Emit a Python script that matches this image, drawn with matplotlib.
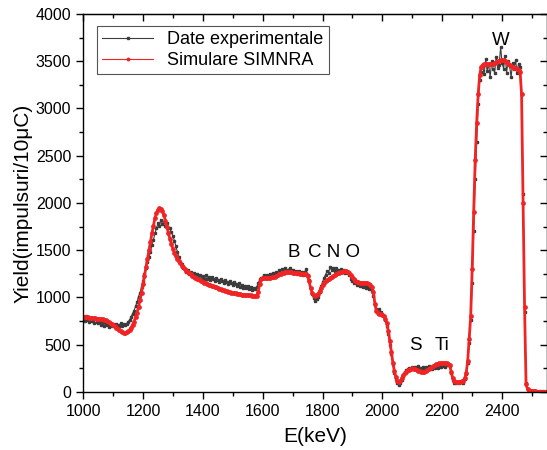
import matplotlib
matplotlib.use('Agg')
import matplotlib.pyplot as plt
import numpy as np
from matplotlib.ticker import MultipleLocator

plt.rcParams['font.family'] = ['Liberation Sans', 'DejaVu Sans']

# channel energies (keV), 5 keV per channel
e_start, e_step = 1000, 5
# measured spectrum (counts / 10 uC)
date_exp = [
    780, 750, 800, 765, 740, 775, 755, 725, 770, 745, 730, 755, 710, 735, 700, 725, 705, 690, 720, 700,
    715, 690, 720, 705, 700, 725, 695, 715, 705, 720, 745, 760, 790, 830, 860, 905, 950, 1010, 1050, 1110,
    1170, 1250, 1310, 1370, 1430, 1480, 1560, 1610, 1680, 1730, 1790, 1760, 1820, 1780, 1800, 1760, 1790, 1740, 1730, 1690,
    1650, 1600, 1540, 1480, 1430, 1380, 1350, 1310, 1300, 1270, 1290, 1250, 1270, 1230, 1260, 1220, 1250, 1210, 1240, 1200,
    1225, 1190, 1235, 1200, 1215, 1180, 1220, 1195, 1170, 1205, 1185, 1160, 1200, 1170, 1150, 1185, 1160, 1140, 1175, 1150,
    1130, 1165, 1140, 1120, 1150, 1110, 1135, 1100, 1125, 1095, 1120, 1090, 1110, 1080, 1105, 1090, 1110, 1150, 1190, 1210,
    1215, 1240, 1210, 1235, 1220, 1250, 1225, 1260, 1235, 1270, 1245, 1290, 1260, 1300, 1270, 1310, 1280, 1290, 1310, 1270,
    1295, 1260, 1285, 1250, 1275, 1245, 1270, 1240, 1265, 1300, 1240, 1180, 1100, 1040, 990, 960, 985, 1010, 1060, 1120,
    1160, 1210, 1240, 1280, 1260, 1320, 1290, 1310, 1280, 1315, 1290, 1270, 1300, 1275, 1290, 1260, 1285, 1255, 1240, 1200,
    1170, 1150, 1180, 1130, 1155, 1120, 1140, 1110, 1130, 1100, 1120, 1090, 1105, 1070, 1020, 920, 880, 860, 875, 850,
    830, 800, 760, 700, 610, 500, 400, 300, 200, 140, 100, 75, 90, 130, 170, 210, 230, 245, 250, 240,
    260, 245, 265, 250, 270, 240, 255, 265, 245, 260, 250, 270, 255, 240, 265, 250, 275, 255, 280, 260,
    270, 285, 265, 280, 290, 270, 200, 130, 100, 90, 110, 95, 105, 120, 100, 140, 190, 310, 520, 760,
    1150, 1700, 2250, 2650, 3050, 3300, 3390, 3450, 3360, 3520, 3400, 3470, 3330, 3500, 3420, 3380, 3540, 3430, 3460, 3650,
    3480, 3420, 3560, 3380, 3500, 3450, 3330, 3480, 3420, 3510, 3380, 3470, 3440, 3150, 2100, 850, 100, 30, 15, 10,
    5, 8, 4, 6, 3, 5, 4, 6, 3, 4, 5,
]
# SIMNRA simulation
simulare = [
    795, 793, 791, 789, 787, 785, 783, 781, 779, 777, 775, 772, 770, 768, 765, 758, 748, 738, 727, 716,
    705, 694, 682, 668, 652, 640, 632, 628, 629, 632, 640, 656, 680, 710, 745, 790, 840, 900, 970, 1050,
    1140, 1230, 1320, 1410, 1500, 1590, 1680, 1760, 1840, 1895, 1930, 1946, 1940, 1915, 1870, 1810, 1745, 1680, 1620, 1565,
    1515, 1475, 1440, 1412, 1385, 1360, 1338, 1318, 1300, 1284, 1270, 1256, 1244, 1232, 1221, 1210, 1200, 1190, 1181, 1172,
    1164, 1156, 1149, 1142, 1136, 1130, 1124, 1118, 1112, 1106, 1100, 1094, 1088, 1082, 1076, 1070, 1064, 1060, 1056, 1052,
    1049, 1046, 1043, 1040, 1037, 1034, 1031, 1029, 1027, 1025, 1023, 1022, 1021, 1020, 1019, 1018, 1020, 1060, 1140, 1190,
    1205, 1207, 1208, 1208, 1209, 1210, 1212, 1215, 1220, 1228, 1236, 1244, 1251, 1257, 1262, 1266, 1268, 1269, 1268, 1266,
    1263, 1260, 1258, 1256, 1255, 1253, 1251, 1250, 1250, 1248, 1225, 1170, 1100, 1050, 1025, 1018, 1022, 1038, 1065, 1100,
    1135, 1155, 1170, 1183, 1195, 1205, 1215, 1226, 1237, 1247, 1256, 1263, 1269, 1274, 1278, 1279, 1277, 1270, 1258, 1240,
    1220, 1195, 1175, 1165, 1160, 1157, 1155, 1154, 1152, 1150, 1148, 1145, 1135, 1112, 1060, 930, 860, 840, 830, 822,
    815, 805, 770, 725, 640, 540, 420, 310, 220, 160, 118, 102, 115, 145, 175, 198, 215, 227, 237, 245,
    249, 248, 242, 233, 225, 220, 216, 214, 216, 222, 232, 242, 252, 261, 272, 282, 292, 299, 304, 305,
    305, 305, 304, 304, 300, 280, 210, 145, 120, 110, 107, 106, 108, 112, 120, 145, 200, 330, 560, 800,
    1300, 1900, 2450, 2850, 3150, 3350, 3440, 3462, 3468, 3470, 3470, 3468, 3466, 3466, 3470, 3478, 3488, 3498, 3505, 3510,
    3511, 3508, 3500, 3490, 3475, 3460, 3448, 3440, 3432, 3425, 3418, 3410, 3390, 3150, 2000, 900, 80, 30, 12, 8,
    6, 5, 5, 4, 4, 4, 3, 3, 3, 3, 3,
]
energie = e_start + e_step * np.arange(len(date_exp))

# element labels: (text, E, yield)
etichete = [('W', 2397, 3720), ('B', 1703, 1480), ('C N O', 1838, 1480),
            ('S', 2110, 490), ('Ti', 2200, 490)]

fig = plt.figure(figsize=(5.47, 4.5), dpi=100)
ax = fig.add_axes([0.152, 0.129, 0.848, 0.84])

ax.plot(energie, date_exp, color='#3c3c3c', lw=0.8, marker='s', ms=1.8,
        label='Date experimentale')
ax.plot(energie, simulare, color='#f02424', lw=2.0, marker='o', ms=2.4,
        label='Simulare SIMNRA')

for text, x, y in etichete:
    ax.text(x, y, text, fontsize=13.5, ha='center', va='center')

ax.set_xlim(1000, 2550)
ax.set_ylim(0, 4000)
ax.xaxis.set_major_locator(MultipleLocator(200))
ax.xaxis.set_minor_locator(MultipleLocator(100))
ax.yaxis.set_major_locator(MultipleLocator(500))
ax.yaxis.set_minor_locator(MultipleLocator(250))
ax.tick_params(which='both', direction='out', width=1.0, labelsize=11.5,
               top=False, right=False)
ax.tick_params(which='major', length=5)
ax.tick_params(which='minor', length=3)

# mirrored ticks on top/right pointing inward
sec_x = ax.secondary_xaxis('top')
sec_x.xaxis.set_major_locator(MultipleLocator(200))
sec_x.xaxis.set_minor_locator(MultipleLocator(100))
sec_x.tick_params(which='both', direction='in', labeltop=False, width=1.0)
sec_x.tick_params(which='major', length=5)
sec_x.tick_params(which='minor', length=3)
sec_y = ax.secondary_yaxis('right')
sec_y.yaxis.set_major_locator(MultipleLocator(500))
sec_y.yaxis.set_minor_locator(MultipleLocator(250))
sec_y.tick_params(which='both', direction='in', labelright=False, width=1.0)
sec_y.tick_params(which='major', length=5)
sec_y.tick_params(which='minor', length=3)

for sp in ax.spines.values():
    sp.set_linewidth(1.0)

ax.set_xlabel('E(keV)', fontsize=15, labelpad=6)
ax.set_ylabel('Yield(impulsuri/10\u03bcC)', fontsize=15, labelpad=2)

leg = ax.legend(loc='upper left', bbox_to_anchor=(0.03, 0.968), borderaxespad=0,
                fontsize=13, fancybox=False, framealpha=1, edgecolor='#555555',
                handlelength=2.8, borderpad=0.3, labelspacing=0.2)
leg.get_frame().set_linewidth(0.8)
for h in leg.legend_handles:
    h.set_linewidth(0.8)
    h.set_markersize(1.8)

fig.savefig('out.png', dpi=100)
